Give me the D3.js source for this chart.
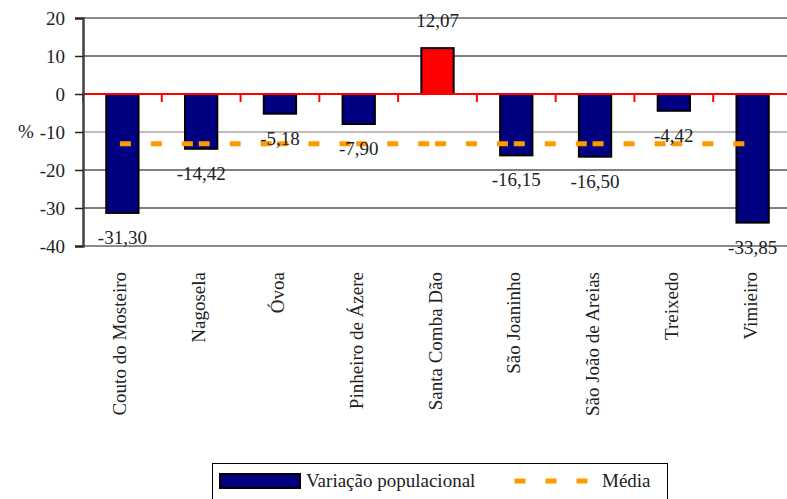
<!DOCTYPE html>
<html>
<head>
<meta charset="utf-8">
<script src="https://cdn.jsdelivr.net/npm/d3@7"></script>
<style>
  body { margin: 0; background: #fff; }
  svg { display: block; }
</style>
</head>
<body>
<svg width="787" height="499" font-family="DejaVu Serif, Liberation Serif, serif"></svg>
<script>
var width = 787;
var height = 499;
var margin = {left: 83, top: 18, right: -5, bottom: 253};
var serif = 'Liberation Serif';

// data
var freguesias = ['Couto do Mosteiro', 'Nagosela', 'Óvoa', 'Pinheiro de Ázere', 'Santa Comba Dão',
                  'São Joaninho', 'São João de Areias', 'Treixedo', 'Vimieiro'];
var variacao = [-31.30, -14.42, -5.18, -7.90, 12.07, -16.15, -16.50, -4.42, -33.85];
var media = [-13.07, -13.07, -13.07, -13.07, -13.07, -13.07, -13.07, -13.07, -13.07];
var yTicks = [20, 10, 0, -10, -20, -30, -40];

var svg = d3.select('svg');

var xScale = d3.scaleBand().domain(freguesias).range([margin.left, width - margin.right]);
var yScale = d3.scaleLinear().domain([-40, 20]).range([height - margin.bottom, margin.top]);
var step = xScale.step();
var barWidth = step * 0.41;

function center(d) { return xScale(d) + step / 2; }
function fmt(v) { return v.toFixed(2).replace('.', ','); }

// gridlines
svg.append('g')
  .selectAll('line')
  .data(yTicks.filter(function(t) { return t != 0; }))
  .enter()
  .append('line')
  .attr('x1', margin.left)
  .attr('x2', width)
  .attr('y1', function(d) { return yScale(d); })
  .attr('y2', function(d) { return yScale(d); })
  .attr('stroke', function(d) { return (d == 20 || d == -40) ? '#8c8c8c' : (d == -10 ? '#7a7a7a' : '#000'); })
  .attr('stroke-width', function(d) { return (d == 20 || d == -40) ? 2 : 1; });

// bars
svg.selectAll('rect.bar')
  .data(variacao)
  .enter()
  .append('rect')
  .attr('class', 'bar')
  .attr('x', function(d, i) { return center(freguesias[i]) - barWidth / 2; })
  .attr('y', function(d) { return yScale(Math.max(0, d)); })
  .attr('width', barWidth)
  .attr('height', function(d) { return Math.abs(yScale(d) - yScale(0)); })
  .attr('fill', function(d) { return d > 0 ? '#ff0000' : '#000080'; })
  .attr('stroke', '#000')
  .attr('stroke-width', 2);

// category axis at zero (red)
var zeroY = yScale(0);
svg.append('line')
  .attr('x1', margin.left).attr('x2', width)
  .attr('y1', zeroY).attr('y2', zeroY)
  .attr('stroke', '#ff0000').attr('stroke-width', 2);

svg.append('g')
  .selectAll('line')
  .data(freguesias)
  .enter()
  .append('line')
  .attr('x1', function(d) { return xScale(d); })
  .attr('x2', function(d) { return xScale(d); })
  .attr('y1', zeroY)
  .attr('y2', zeroY + 8)
  .attr('stroke', '#ff0000').attr('stroke-width', 2);

// media line, each segment restarts the dash pattern
var line = d3.line()
  .x(function(d) { return d[0]; })
  .y(function(d) { return d[1]; });

for (var i = 0; i < media.length - 1; i++) {
  svg.append('path')
    .attr('d', line([[center(freguesias[i]), yScale(media[i])], [center(freguesias[i + 1]), yScale(media[i + 1])]]))
    .attr('stroke', '#ff9900')
    .attr('stroke-width', 5)
    .attr('stroke-dasharray', '6,25')
    .attr('stroke-linecap', 'square')
    .attr('fill', 'none');
}

// data labels
svg.selectAll('text.label')
  .data(variacao)
  .enter()
  .append('text')
  .attr('class', 'label')
  .attr('x', function(d, i) { return center(freguesias[i]); })
  .attr('y', function(d) { return d > 0 ? yScale(d) - 21 : yScale(d) + 31; })
  .attr('text-anchor', 'middle')
  .attr('font-family', serif)
  .attr('font-size', 19)
  .attr('fill', '#222')
  .text(fmt);

// value axis
var axisLeft = d3.axisLeft(yScale)
  .tickValues(yTicks)
  .tickSize(8)
  .tickPadding(10)
  .tickFormat(function(d) { return String(d); });

var gy = svg.append('g')
  .attr('transform', 'translate(' + margin.left + ',0)')
  .call(axisLeft)
  .attr('font-family', serif)
  .attr('font-size', 19);
gy.select('.domain').attr('stroke', '#404040').attr('stroke-width', 2.5);
gy.selectAll('.tick line').attr('stroke', '#222').attr('stroke-width', 1.5);
gy.selectAll('.tick text').attr('fill', '#222');

svg.append('text')
  .attr('x', 18)
  .attr('y', yScale(-10) + 6)
  .attr('font-family', serif)
  .attr('font-size', 19)
  .attr('fill', '#222')
  .text('%');

// category labels
svg.selectAll('text.cat')
  .data(freguesias)
  .enter()
  .append('text')
  .attr('class', 'cat')
  .attr('transform', function(d) { return 'translate(' + (center(d) + 4) + ',272) rotate(-90)'; })
  .attr('text-anchor', 'end')
  .attr('font-family', serif)
  .attr('font-size', 19)
  .attr('fill', '#222')
  .text(function(d) { return d; });

// legend
var legend = svg.append('g')
  .attr('font-family', serif)
  .attr('font-size', 19);
legend.append('rect')
  .attr('x', 212.5).attr('y', 463.5)
  .attr('width', 455).attr('height', 45)
  .attr('fill', '#fff').attr('stroke', '#000').attr('stroke-width', 1);
legend.append('rect')
  .attr('x', 220).attr('y', 474)
  .attr('width', 80).attr('height', 14)
  .attr('fill', '#000080').attr('stroke', '#000').attr('stroke-width', 2);
legend.append('text')
  .attr('x', 306).attr('y', 487)
  .attr('fill', '#222')
  .text('Variação populacional');
legend.append('path')
  .attr('d', line([[517, 481], [590, 481]]))
  .attr('stroke', '#ff9900')
  .attr('stroke-width', 5)
  .attr('stroke-dasharray', '6,25')
  .attr('stroke-linecap', 'square')
  .attr('fill', 'none');
legend.append('text')
  .attr('x', 602).attr('y', 487)
  .attr('fill', '#222')
  .text('Média');
</script>
</body>
</html>
